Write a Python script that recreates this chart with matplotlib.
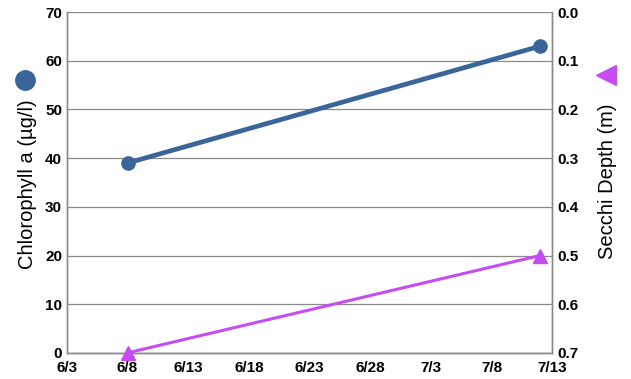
import datetime as dt

import matplotlib
matplotlib.use('Agg')
import matplotlib.pyplot as plt

plt.rcParams['font.family'] = ['Liberation Sans', 'DejaVu Sans']

chl_dates = [dt.date(2020, 6, 8), dt.date(2020, 7, 12)]
chl_values = [39, 63]
secchi_dates = [dt.date(2020, 6, 8), dt.date(2020, 7, 12)]
secchi_values = [0.7, 0.5]
x_start = dt.date(2020, 6, 3)
x_end = dt.date(2020, 7, 13)

blue = '#3a6598'
purple = '#c64cf2'
grid_col = '#8a8a8a'

fig = plt.figure(figsize=(6.31, 3.79), dpi=100)
ax = fig.add_axes([0.106, 0.069, 0.769, 0.899])
ax2 = ax.twinx()

ax.plot(chl_dates, chl_values, color=blue, lw=3.4, marker='o', ms=9.5, zorder=3)
ax2.plot(secchi_dates, secchi_values, color=purple, lw=2.2, marker='^', ms=9.5,
         clip_on=False, zorder=3)

ax.set_xlim(x_start, x_end)
ax.set_ylim(0, 70)
ax.set_yticks(range(0, 71, 10))
ax2.set_ylim(0.7, 0.0)
ax2.set_yticks([i / 10 for i in range(8)])
ax2.set_yticklabels([f'{i / 10:.1f}' for i in range(8)])

ticks = [x_start + dt.timedelta(days=5 * i) for i in range(9)]
ax.set_xticks(ticks)
ax.set_xticklabels([f'{d.month}/{d.day}' for d in ticks])

ax.grid(axis='y', color=grid_col, lw=0.9)
ax.set_axisbelow(True)
for a in (ax, ax2):
    for s in a.spines.values():
        s.set_color(grid_col)
        s.set_linewidth(1.0)
    a.spines['top'].set_visible(False)
    a.tick_params(length=0, labelsize=11, pad=3.5)
    for lab in a.get_xticklabels() + a.get_yticklabels():
        lab.set_fontweight('bold')
ax.tick_params(axis='x', pad=6)

fig.text(0.043, 0.515, 'Chlorophyll a (µg/l)', rotation=90, va='center', ha='center',
         fontsize=14.5)
fig.text(0.962, 0.522, 'Secchi Depth (m)', rotation=90, va='center', ha='center',
         fontsize=14.5)
fig.lines.append(plt.Line2D([0.040], [0.789], transform=fig.transFigure, marker='o',
                            ms=14, color=blue))
fig.lines.append(plt.Line2D([0.961], [0.802], transform=fig.transFigure, marker='<',
                            ms=14, color=purple))

fig.savefig('out.png', dpi=100)
